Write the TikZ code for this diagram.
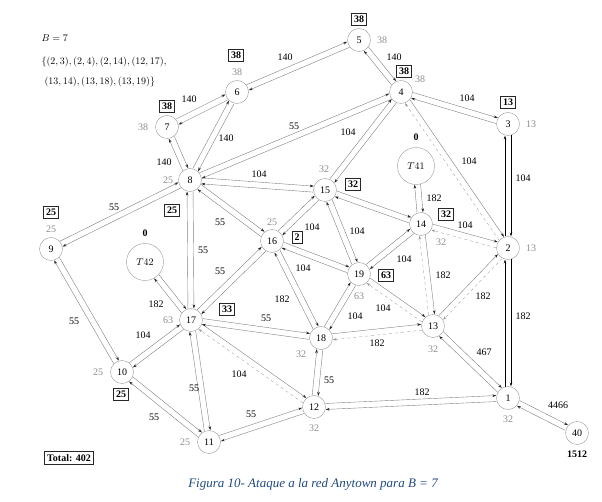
\documentclass[tikz,border=0pt]{standalone}
\usepackage{fontspec}
\setmainfont{Liberation Serif}
\usetikzlibrary{positioning, calc, arrows.meta}
\definecolor{capblue}{RGB}{31,73,125}
\tikzset{
	twin/.style={to path={($(\tikztostart)!3pt!90:(\tikztotarget)$) -- ($(\tikztotarget)!3pt!-90:(\tikztostart)$)}}, % one line per direction, on its left
	road/.style={twin, draw=black!50, line width=0.4pt, -{Stealth[length=4pt,width=2.6pt,black!85]}, shorten <=11.5pt, shorten >=11.5pt},
	cut/.style={road, dashed, draw=black!35, -{Stealth[length=4pt,width=2.6pt,black!40]}},
	main/.style={road, draw=black, line width=0.7pt, -{Stealth[length=4pt,width=2.6pt,black]}},
	stn/.style={circle, draw=black!40, minimum size=23pt, inner sep=0pt},
	tank/.style={stn, minimum size=37pt},
	dem/.style={text=black!45},
	res/.style={draw=black!85, line width=0.8pt, font=\bfseries, inner sep=2.6pt},
}

\begin{document}
\begin{tikzpicture}[x=1pt, y=-1pt]
	\useasboundingbox (0,0) rectangle (602,502);
	% stations
	\node[stn] (n1) at (508,398) {1};
	\node[stn] (n2) at (508,248) {2};
	\node[stn] (n3) at (508,124) {3};
	\node[stn] (n4) at (401,92) {4};
	\node[stn] (n5) at (359,40) {5};
	\node[stn] (n6) at (237,92) {6};
	\node[stn] (n7) at (167,127) {7};
	\node[stn] (n8) at (190,180) {8};
	\node[stn] (n9) at (51,249) {9};
	\node[stn] (n10) at (122,372) {10};
	\node[stn] (n11) at (209,442) {11};
	\node[stn] (n12) at (314,407) {12};
	\node[stn] (n13) at (433,326) {13};
	\node[stn] (n14) at (421,224) {14};
	\node[stn] (n15) at (325,190) {15};
	\node[stn] (n16) at (272,241) {16};
	\node[stn] (n17) at (191,320) {17};
	\node[stn] (n18) at (321,338) {18};
	\node[stn] (n19) at (359,274) {19};
	\node[stn] (n40) at (577,433) {40};
	\node[tank] (T41) at (416,166) {$T41$};
	\node[tank] (T42) at (145,262) {$T42$};
	\node[font=\bfseries, above=3pt of T41] (z41) {0};
	\node[font=\bfseries, above=3pt of T42] (z42) {0};
	\node[font=\bfseries, below=3pt of n40] (s40) {1512};

	% pipes
	\draw (n5) edge[road] (n6) edge[road] (n4)
		(n6) edge[road] (n5) edge[road] (n7) edge[road] (n8)
		(n7) edge[road] (n6) edge[road] (n8)
		(n8) edge[road] (n6) edge[road] (n7) edge[road] (n4) edge[road] (n15) edge[road] (n9) edge[road] (n16) edge[road] (n17)
		(n4) edge[road] (n5) edge[road] (n8) edge[road] (n3) edge[road] (n15) edge[road] (n2)
		(n3) edge[road] (n4)
		(n15) edge[road] (n4) edge[road] (n8) edge[road] (n16) edge[road] (n19) edge[road] (n14)
		(n9) edge[road] (n8) edge[road] (n10)
		(n16) edge[road] (n8) edge[road] (n15) edge[road] (n19) edge[road] (n18) edge[road] (n17)
		(n17) edge[road] (n8) edge[road] (n16) edge[road] (n18) edge[road] (n10) edge[road] (n11) edge[road] (n12)
		(n19) edge[road] (n15) edge[road] (n16) edge[road] (n14) edge[road] (n18) edge[road] (n13)
		(n14) edge[road] (n15) edge[road] (n19) edge[road] (n2) edge[road] (n13)
		(n18) edge[road] (n16) edge[road] (n17) edge[road] (n19) edge[road] (n12) edge[road] (n13)
		(n10) edge[road] (n9) edge[road] (n17) edge[road] (n11)
		(n11) edge[road] (n10) edge[road] (n17) edge[road] (n12)
		(n12) edge[road] (n11) edge[road] (n18) edge[road] (n1)
		(n13) edge[road] (n2) edge[road] (n1)
		(n1) edge[road] (n12) edge[road] (n13) edge[road] (n40)
		(n40) edge[road] (n1);
	% attacked pipes
	\draw (n2) edge[cut] (n4) edge[cut] (n14) edge[cut] (n13)
		(n13) edge[cut] (n14) edge[cut] (n19) edge[cut] (n18)
		(n12) edge[cut] (n17);
	% tanks
	\draw (n14) edge[road, shorten >=18.5pt] (T41)
		(T41) edge[road, shorten <=18.5pt] (n14)
		(n17) edge[road, shorten >=18.5pt] (T42)
		(T42) edge[road, shorten <=18.5pt] (n17);
	% main line
	\draw (n3) edge[main] (n2)
		(n2) edge[main] (n3) edge[main] (n1)
		(n1) edge[main] (n2);

	% pipe weights
	\foreach \w/\x/\y [count=\i] in {140/285/57, 140/394/57, 140/189/99, 140/226/138, 140/164/162,
		55/294/126, 104/467/98, 104/348/132, 104/469/161, 104/523/178, 104/259/174,
		55/114/207, 55/220/222, 55/203/250, 55/220/271, 182/156/304, 55/266/318, 55/74/321,
		182/282/299, 104/312/227, 104/357/231, 104/303/268, 104/404/259, 182/434/198,
		104/465/225, 182/443/275, 182/483/296, 182/523/316, 104/383/308, 104/355/316,
		182/377/343, 467/484/352, 104/143/335, 55/194/388, 104/239/374, 55/154/417,
		55/251/414, 55/329/380, 182/422/392, 4466/558/405}
		\node (w\i) at (\x,\y) {\w};

	% demands
	\foreach \n/\d/\x/\y in {5/38/382/40, 6/38/237/72, 7/38/143/127, 4/38/420/79, 3/13/531/124,
		8/25/168/180, 9/25/51/229, 15/32/324/169, 16/25/272/222, 14/32/441/242, 2/13/531/248,
		19/63/359/296, 17/63/168/320, 18/32/301/354, 13/32/433/349, 10/25/98/372,
		11/25/185/442, 12/32/314/428, 1/32/508/419}
		\node[dem] (d\n) at (\x,\y) {\d};

	% losses
	\foreach \v/\x/\y [count=\i] in {38/359/19, 38/236/55, 38/167/106, 38/404/71, 13/508/102,
		25/51/212, 25/172/210, 33/227/309, 2/297/237, 32/353/184, 32/446/214, 63/386/275, 25/121/394}
		\node[res] (r\i) at (\x,\y) {\v};
	\node[res] (total) at (69,458) {Total: 402};

	% attack
	\node[anchor=west] (bud) at (38,38) {$B=7$};
	\node[anchor=west] (set1) at (38,62) {$\{(2,3),(2,4),(2,14),(12,17),$};
	\node[anchor=west] (set2) at (41,82) {$(13,14),(13,18),(13,19)\}$};

	\node[text=capblue, font=\itshape\fontsize{13}{15}\selectfont] (cap) at (313,484) {Figura 10- Ataque a la red Anytown para B = 7};
\end{tikzpicture}
\end{document}
